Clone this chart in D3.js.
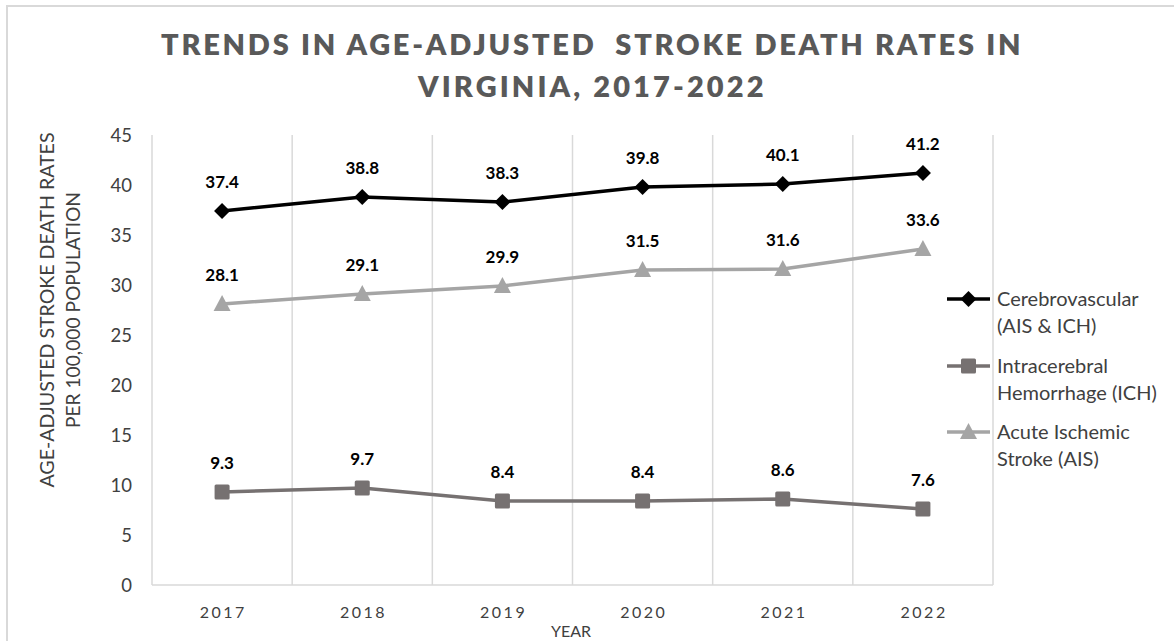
<!DOCTYPE html>
<html><head><meta charset="utf-8">
<script src="https://cdn.jsdelivr.net/npm/d3@7"></script>
<style>body{margin:0;background:#fff}svg{display:block}</style>
</head><body>
<svg id="c" width="1174" height="641"></svg>
<script>
const years = ["2017","2018","2019","2020","2021","2022"];
const cerebro = [37.4, 38.8, 38.3, 39.8, 40.1, 41.2];
const ich = [9.3, 9.7, 8.4, 8.4, 8.6, 7.6];
const ais = [28.1, 29.1, 29.9, 31.5, 31.6, 33.6];
const yTicks = [0,5,10,15,20,25,30,35,40,45];
const seriesNames = [["Cerebrovascular","(AIS & ICH)"],["Intracerebral","Hemorrhage (ICH)"],["Acute Ischemic","Stroke (AIS)"]];
const titleLines = ["TRENDS IN AGE-ADJUSTED\u00A0 STROKE DEATH RATES IN","VIRGINIA, 2017-2022"];
const yTitle = ["AGE-ADJUSTED STROKE DEATH RATES","PER 100,000 POPULATION"];
const xTitle = "YEAR";

const F = "Lato, 'Open Sans', sans-serif";
const svg = d3.select("#c");
svg.append("rect").attr("x",7).attr("y",6).attr("width",1300).attr("height",800)
  .attr("fill","#fff").attr("stroke","#d9d9d9").attr("stroke-width",2);

const x = d3.scaleBand().domain(years).range([152,993]);
const y = d3.scaleLinear().domain([0,45]).range([585,135]);

// gridlines
const edges = years.map(d=>x(d)).concat([x.range()[1]]);
svg.append("g").selectAll("line").data(edges).join("line")
  .attr("x1",d=>d).attr("x2",d=>d).attr("y1",y(45)).attr("y2",y(0))
  .attr("stroke","#d9d9d9").attr("stroke-width",1.5);
svg.append("line").attr("x1",152).attr("x2",993).attr("y1",y(0)).attr("y2",y(0))
  .attr("stroke","#d9d9d9").attr("stroke-width",1.5);

// y axis
const ya = svg.append("g").attr("transform","translate(132,0)")
  .call(d3.axisLeft(y).tickValues(yTicks).tickSize(0).tickPadding(0));
ya.select(".domain").remove();
ya.selectAll("text").attr("font-family",F).attr("font-size",18.5).attr("fill","#404040").attr("dy","0.35em");

// x axis
const xa = svg.append("g").attr("transform","translate(0,612)")
  .call(d3.axisBottom(x).tickSize(0).tickPadding(0));
xa.select(".domain").remove();
xa.selectAll("text").attr("font-family",F).attr("font-size",16).attr("fill","#404040")
  .attr("letter-spacing","2.5px").attr("dy","0.35em").attr("dx","1.2px");

// titles
svg.selectAll("text.title").data(titleLines).join("text").attr("class","title")
  .attr("x",592).attr("y",(d,i)=>55+i*42).attr("text-anchor","middle")
  .attr("font-family",F).attr("font-weight",800).attr("font-size",29)
  .attr("fill","#595959").attr("letter-spacing","2.5px").style("white-space","pre")
  .attr("textLength",(d,i)=>i===0?862:348).attr("lengthAdjust","spacing")
  .text(d=>d);

svg.selectAll("text.ytitle").data(yTitle).join("text").attr("class","ytitle")
  .attr("transform",(d,i)=>`translate(${47+i*26+7},310) rotate(-90)`)
  .attr("text-anchor","middle").attr("font-family",F).attr("font-size",19.5).attr("fill","#404040")
  .attr("textLength",(d,i)=>i===0?355:236).attr("lengthAdjust","spacingAndGlyphs")
  .text(d=>d);

svg.append("text").attr("x",571).attr("y",637).attr("text-anchor","middle")
  .attr("font-family",F).attr("font-size",16).attr("fill","#404040").text(xTitle);

// series
const series = [
  {vals:cerebro,color:"#000000",shape:"diamond"},
  {vals:ich,color:"#767171",shape:"square"},
  {vals:ais,color:"#a5a5a5",shape:"triangle"}
];
function marker(g, shape, color){
  if(shape==="diamond") g.append("path").attr("d","M0,-8L8,0L0,8L-8,0Z").attr("fill",color);
  else if(shape==="square") g.append("rect").attr("x",-7.5).attr("y",-7.5).attr("width",15).attr("height",15).attr("rx",1.5).attr("fill",color);
  else g.append("path").attr("d","M0,-9L8.5,7L-8.5,7Z").attr("fill",color);
}
const line = d3.line().x((d,i)=>x(years[i])+x.bandwidth()/2).y(d=>y(d));
series.forEach(s=>{
  svg.append("path").attr("d",line(s.vals)).attr("fill","none").attr("stroke",s.color)
    .attr("stroke-width",3.5).attr("stroke-linejoin","round");
  s.vals.forEach((v,i)=>{
    const g = svg.append("g").attr("transform",`translate(${x(years[i])+x.bandwidth()/2},${y(v)})`);
    marker(g,s.shape,s.color);
  });
  svg.append("g").selectAll("text").data(s.vals).join("text")
    .attr("x",(d,i)=>x(years[i])+x.bandwidth()/2).attr("y",d=>y(d)-23)
    .attr("text-anchor","middle").attr("font-family",F).attr("font-weight","bold")
    .attr("font-size",17).attr("fill","#000").text(d=>d.toFixed(1));
});

// legend
const legY = [299,366,432];
series.forEach((s,i)=>{
  const g = svg.append("g").attr("transform",`translate(0,${legY[i]})`);
  g.append("line").attr("x1",947).attr("x2",990).attr("y1",0).attr("y2",0)
    .attr("stroke",s.color).attr("stroke-width",3.5);
  const m = g.append("g").attr("transform","translate(968.5,0)");
  marker(m,s.shape,s.color);
  g.selectAll("text").data(seriesNames[i]).join("text")
    .attr("x",997).attr("y",(d,j)=>j*27).attr("dy","0.35em")
    .attr("font-family",F).attr("font-size",20).attr("fill","#404040").text(d=>d);
});
</script>
</body></html>
